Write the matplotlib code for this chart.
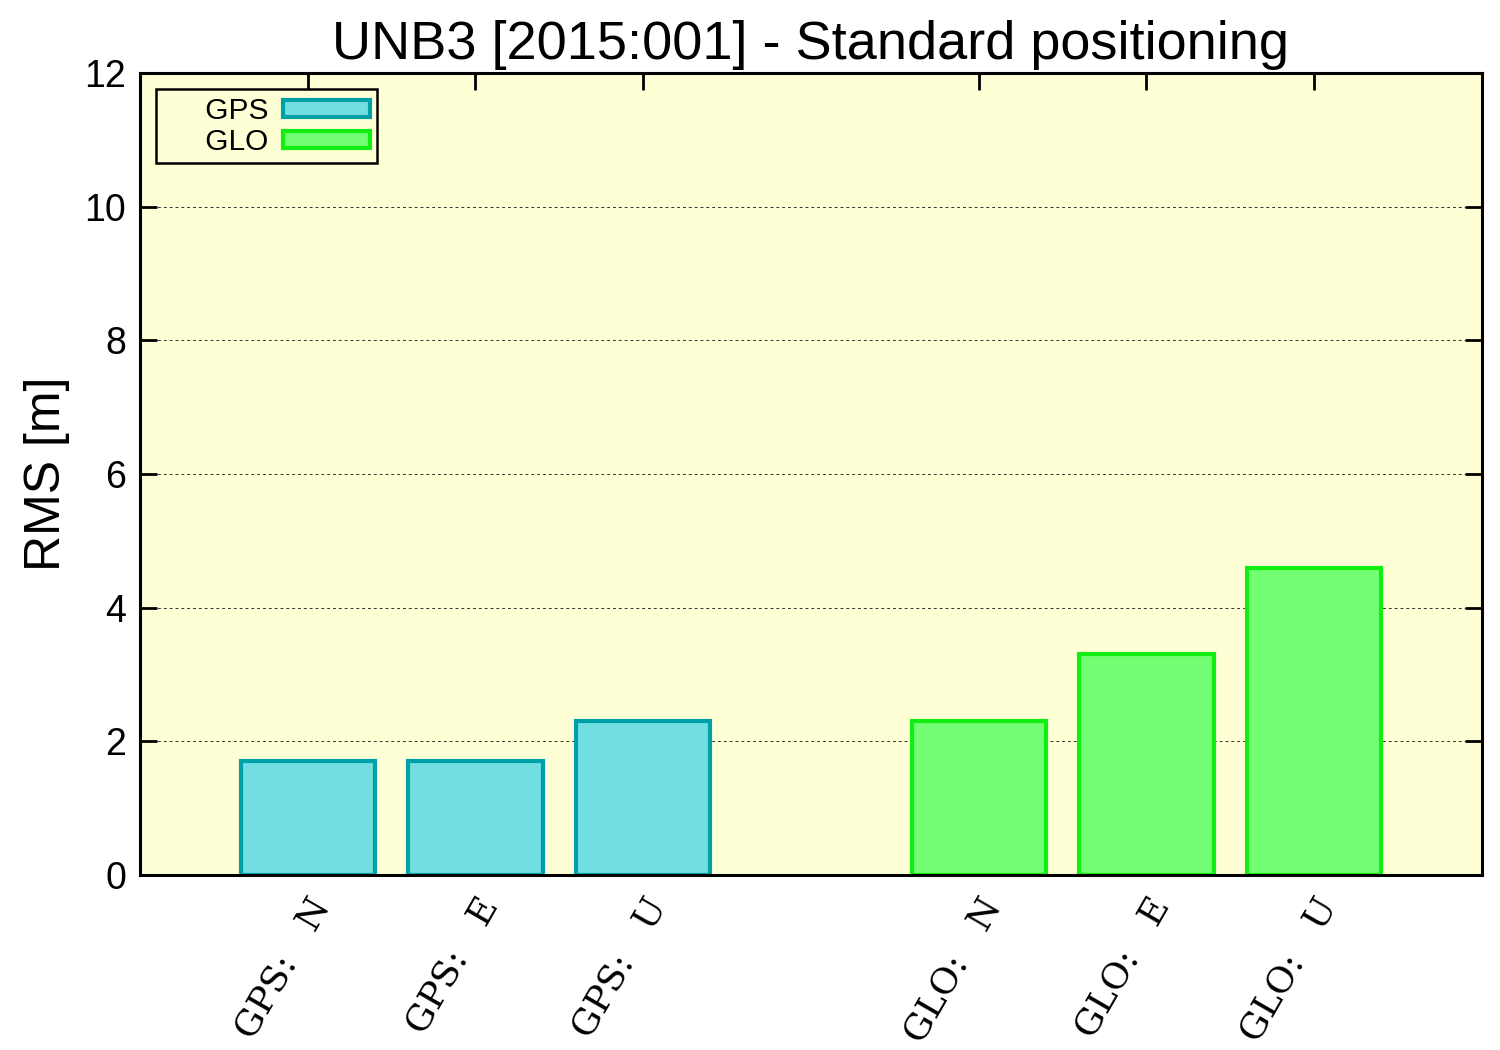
import matplotlib
matplotlib.use("Agg")
import matplotlib.pyplot as plt
from matplotlib.patches import Patch

# values
labels = ["GPS:   N", "GPS:   E", "GPS:   U", "GLO:   N", "GLO:   E", "GLO:   U"]
positions = [1, 2, 3, 5, 6, 7]
rms = [1.7, 1.7, 2.3, 2.3, 3.3, 4.6]
systems = ["GPS", "GPS", "GPS", "GLO", "GLO", "GLO"]

fill = {"GPS": "#73dee1", "GLO": "#73ff73"}
edge = {"GPS": "#00a0a8", "GLO": "#11ee11"}

plt.rcParams["font.family"] = ["Liberation Sans", "DejaVu Sans"]

fig = plt.figure(figsize=(15, 10.5), dpi=100)
ax = fig.add_axes([0.0933, 0.1667, 0.8947, 0.7638])
ax.set_facecolor("#ffffd6")

for x, v, s in zip(positions, rms, systems):
    ax.bar(x, v, width=0.8, color=fill[s], edgecolor=edge[s], linewidth=3, zorder=3)

ax.set_xlim(0, 8)
ax.set_ylim(0, 12)
ax.set_yticks(range(0, 13, 2))
ax.set_xticks(positions)
ax.set_xticklabels(labels, rotation=60, ha="right", va="top", rotation_mode="anchor",
                   family="DejaVu Serif", fontsize=26)
ax.tick_params(axis="both", direction="in", length=12, width=2, top=True, right=True)
ax.tick_params(axis="y", labelsize=27, pad=10)
ax.tick_params(axis="x", pad=12)
ax.grid(axis="y", color="#333333", linestyle=(0, (3, 3)), linewidth=0.7, zorder=1)
for sp in ax.spines.values():
    sp.set_linewidth(2.2)
    sp.set_zorder(4)

ax.set_ylabel("RMS [m]", fontsize=36, labelpad=10)
ax.set_title("UNB3 [2015:001] - Standard positioning", fontsize=39, pad=10)

handles = [Patch(facecolor=fill[s], edgecolor=edge[s], linewidth=3, label="     " + s)
           for s in ["GPS", "GLO"]]
leg = ax.legend(handles=handles, loc="upper left", markerfirst=False, fontsize=21.5,
                fancybox=False, framealpha=1, facecolor="#ffffd6", edgecolor="black",
                handlelength=2.9, handleheight=0.5, labelspacing=0.1, borderpad=0.25,
                handletextpad=0.5, borderaxespad=0.55)
leg.get_frame().set_linewidth(1.8)

fig.savefig("out.png", dpi=100)
